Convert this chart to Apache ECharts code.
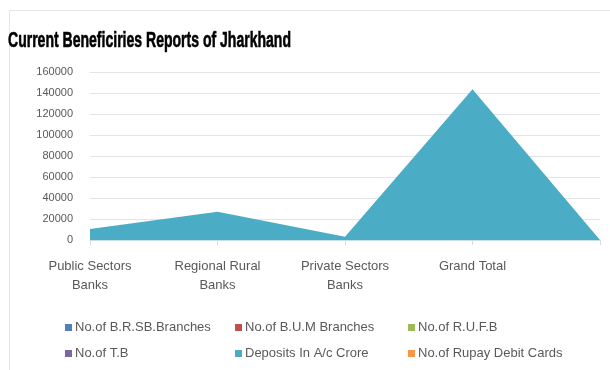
<!DOCTYPE html>
<html>
<head>
<meta charset="utf-8">
<script src="https://cdn.jsdelivr.net/npm/echarts@6/dist/echarts.min.js"></script>
<style>html,body{margin:0;padding:0;background:#fff;}#c{width:610px;height:370px;}</style>
</head>
<body>
<div id="c"></div>
<script>
const titleText = 'Current Beneficiries Reports of Jharkhand';
const categories = ['Public Sectors\nBanks', 'Regional Rural\nBanks', 'Private Sectors\nBanks', 'Grand Total', ''];
const seriesNames = ['No.of B.R.SB.Branches', 'No.of B.U.M Branches', 'No.of R.U.F.B', 'No.of T.B', 'Deposits In A/c Crore', 'No.of Rupay Debit Cards'];
const seriesColors = ['#4F81BD', '#C0504D', '#9BBB59', '#8064A2', '#4BACC6', '#F79646'];
const brsbBranches = [];
const bumBranches = [];
const rufb = [];
const tb = [];
const depositsCrore = [10500, 26800, 3100, 143500, 0];
const rupayCards = [];
const seriesData = [brsbBranches, bumBranches, rufb, tb, depositsCrore, rupayCards];
const yTicks = { min: 0, max: 160000, interval: 20000 };

// compress the title horizontally to mimic the condensed heavy title font
const titleFont = 'bold 22px "Liberation Sans"';
const cv = document.createElement('canvas').getContext('2d');
cv.font = titleFont;
const titleScale = 283 / cv.measureText(titleText).width;

const chart = echarts.init(document.getElementById('c'), null, { renderer: 'canvas' });
const txt = { color: '#595959', fontFamily: 'Liberation Sans', fontSize: 11 };
const legendCols = [[0, 3], [1, 4], [2, 5]];
const legendLeft = [60, 230, 403];
chart.setOption({
  animation: false,
  color: seriesColors,
  graphic: [
    { type: 'rect', shape: { x: 9.5, y: 10.5, width: 620, height: 380 }, style: { fill: 'none', stroke: '#e6e6e6', lineWidth: 1 } },
    { type: 'text', x: 8, y: 30, scaleX: titleScale, style: { text: titleText, fontFamily: 'Liberation Sans', fontWeight: 'bold', fontSize: 22, fill: '#000', stroke: '#000', lineWidth: 0.6 } }
  ],
  legend: legendCols.map((col, i) => ({
    left: legendLeft[i], top: 316, orient: 'vertical', itemGap: 13,
    itemWidth: 7, itemHeight: 7, icon: 'rect',
    textStyle: Object.assign({}, txt, { fontSize: 13, padding: [0, 0, 0, -2] }),
    data: col.map(k => seriesNames[k]),
    selectedMode: false
  })),
  grid: { left: 90, right: 10, top: 72, bottom: 130, containLabel: false },
  xAxis: {
    type: 'category', boundaryGap: false, data: categories,
    axisLine: { lineStyle: { color: '#c8dfe6' } },
    axisTick: { show: true, length: 5, lineStyle: { color: '#d9d9d9' } },
    axisLabel: Object.assign({}, txt, { fontSize: 13, margin: 17, lineHeight: 19, interval: 0 })
  },
  yAxis: {
    type: 'value', min: yTicks.min, max: yTicks.max, interval: yTicks.interval,
    axisLine: { show: false }, axisTick: { show: false },
    axisLabel: Object.assign({}, txt, { margin: 17, formatter: v => String(v) }),
    splitLine: { lineStyle: { color: '#e4e4e4' } }
  },
  series: seriesNames.map((n, i) => ({
    name: n, type: 'line', data: seriesData[i], symbol: 'none',
    lineStyle: { width: 0 },
    areaStyle: { color: seriesColors[i], opacity: 1 }
  }))
});
</script>
</body>
</html>
